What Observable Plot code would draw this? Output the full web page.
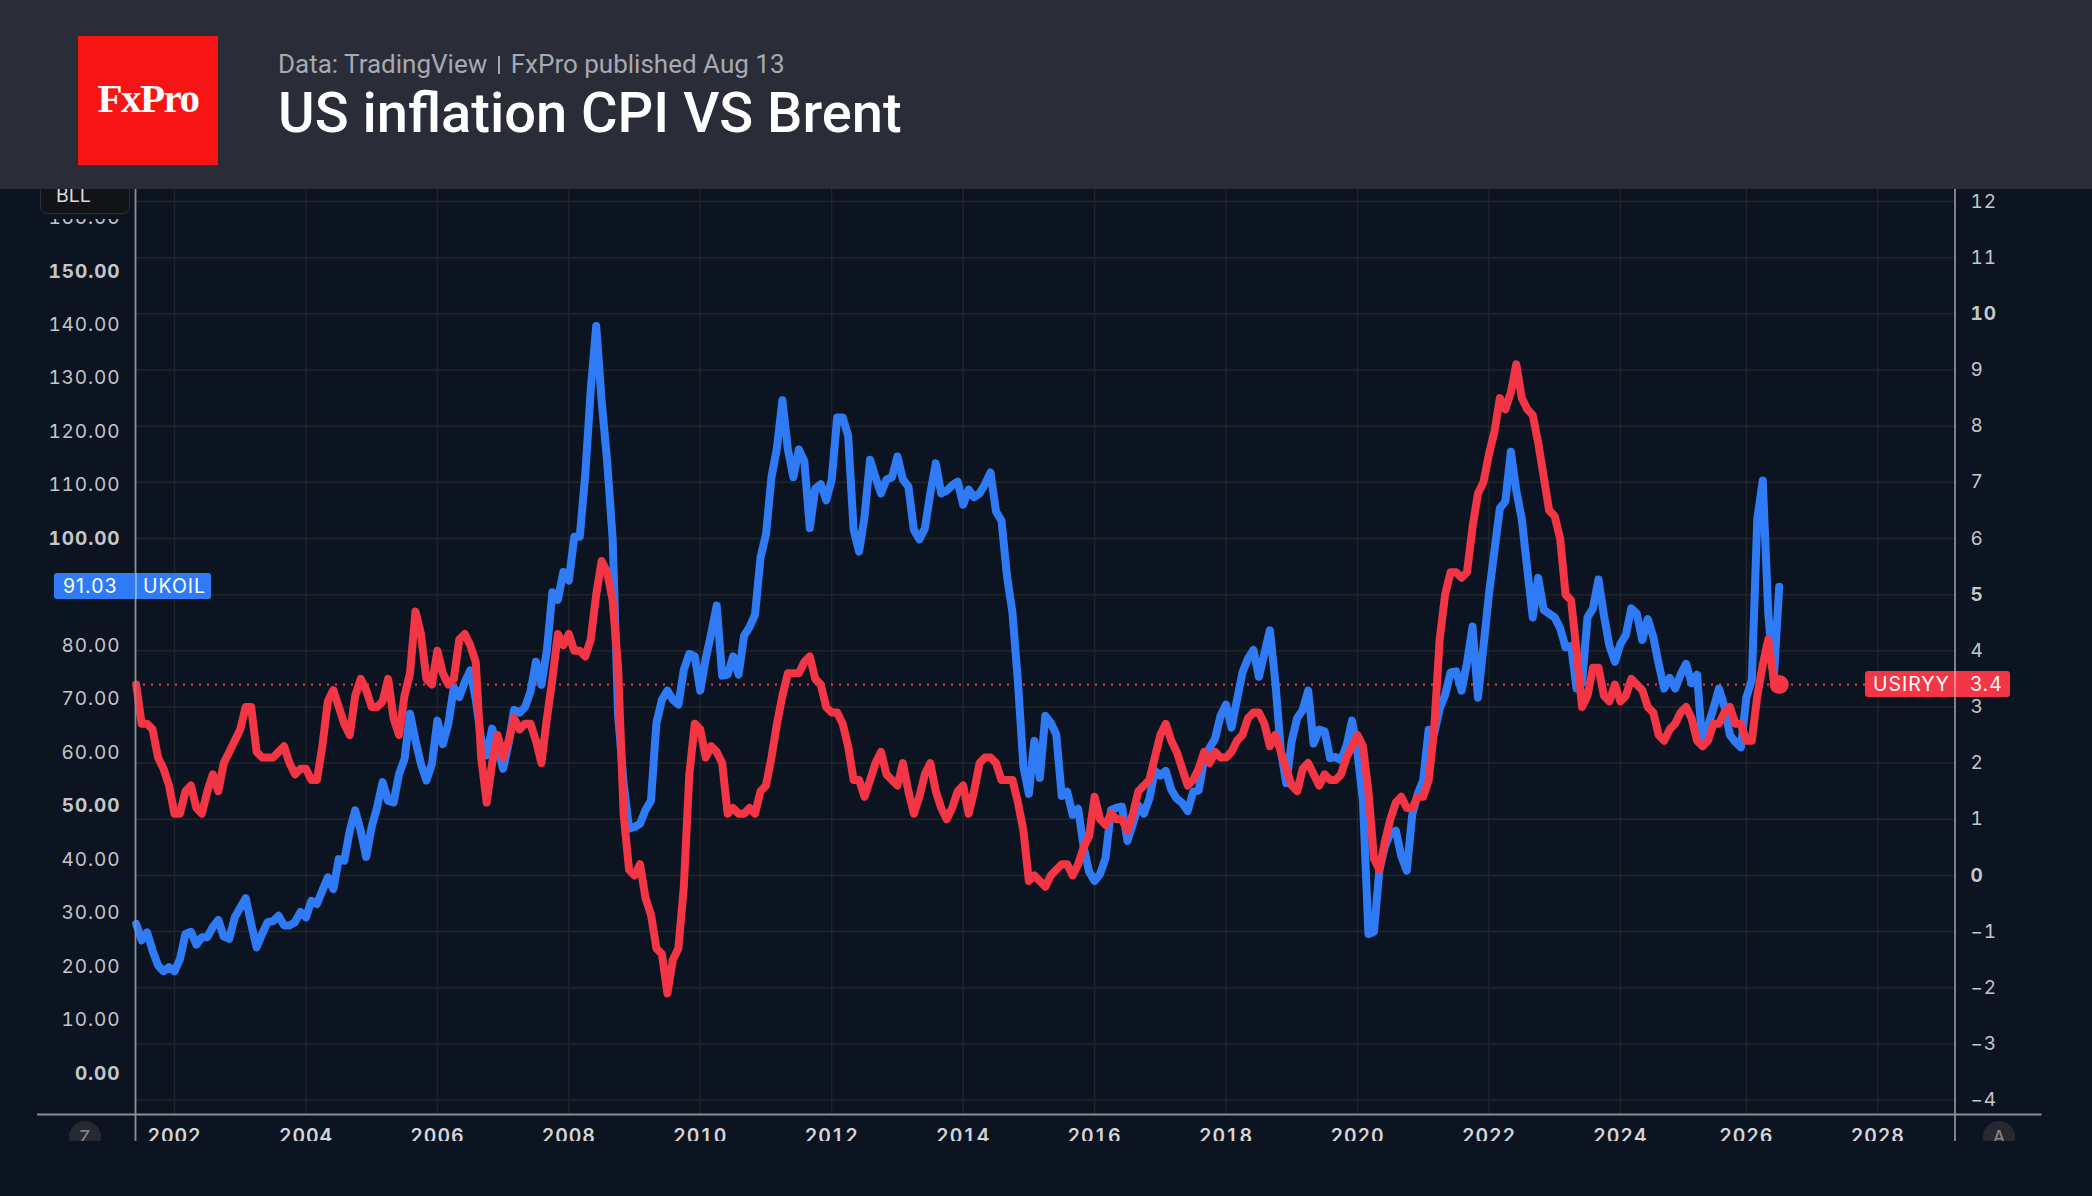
<!DOCTYPE html>
<html>
<head>
<meta charset="utf-8">
<title>US inflation CPI VS Brent</title>
<script src="https://cdn.jsdelivr.net/npm/d3@7"></script>
<script src="https://cdn.jsdelivr.net/npm/@observablehq/plot@0.6"></script>
<style>
  html, body { margin: 0; padding: 0; background: #0b1420; width: 2092px; height: 1196px; overflow: hidden; }
  #header { position: absolute; left: 0; top: 0; width: 2092px; height: 189px; background: #2a2d38; z-index: 5; }
  #logo { position: absolute; left: 78px; top: 36px; width: 142px; height: 129px; background: #f71414; color: #fff;
          font: 700 41px/125px "Liberation Serif", serif; text-align: center; letter-spacing: -1.5px; }
  #sub { position: absolute; left: 278px; top: 48px; font: 400 26px/32px Roboto, sans-serif; color: #a6a9b1; white-space: nowrap; }
  #sub i { display: inline-block; width: 1.5px; height: 18px; background: #a6a9b1; margin: 0 11px 0 11px; vertical-align: -1px; }
  #title { position: absolute; left: 278px; top: 79px; font: 500 56px/68px Roboto, sans-serif; color: #fff; white-space: nowrap; }
  #chart { position: absolute; left: 0; top: 189px; width: 2092px; height: 952px; overflow: hidden; }
  #chart svg { display: block; overflow: hidden; background: transparent; letter-spacing: .9px; }
  .chip { position: absolute; height: 26px; border-radius: 3px; color: #fff; font: 400 19.5px/26px Inter, sans-serif; letter-spacing: 1px; white-space: nowrap; }
  .chip span { position: absolute; top: 0; }
  .chip b { position: absolute; top: 0; width: 1.5px; height: 26px; background: rgba(255,255,255,.4); }
  #bll { position: absolute; left: 40px; top: -24px; width: 88px; height: 47px; background: #121316; border: 1px solid #2c2e33; border-radius: 7px;
         box-shadow: 0 5px 0 #0b1420; color: #d8d9db; font: 400 19.5px/1 Inter, sans-serif; }
  #bll span { position: absolute; left: 15px; top: 25px; transform: translateY(-5px); }
  .round { position: absolute; top: 932px; width: 32px; height: 32px; border-radius: 50%; background: #262a30; color: #80848b;
           font: 500 17px/32px Inter, sans-serif; text-align: center; }
</style>
</head>
<body>
<div id="header">
  <div id="logo" style="width:140px">FxPro</div>
  <div id="sub">Data: TradingView<i></i>FxPro published Aug 13</div>
  <div id="title">US inflation CPI VS Brent</div>
</div>
<div id="chart"></div>
<script>
// Monthly bars from Jun 2001 to Jul 2026 (Oct 2025 has no CPI print, so no bar)
const cpi2001 = [3.4,2.7,2.7,2.6,2.1,1.9,1.6];
const cpi2002 = [1.1,1.1,1.5,1.6,1.2,1.1,1.5,1.8,1.5,2.0,2.2,2.4];
const cpi2003 = [2.6,3.0,3.0,2.2,2.1,2.1,2.1,2.2,2.3,2.0,1.8,1.9];
const cpi2004 = [1.9,1.7,1.7,2.3,3.1,3.3,3.0,2.7,2.5,3.2,3.5,3.3];
const cpi2005 = [3.0,3.0,3.1,3.5,2.8,2.5,3.2,3.6,4.7,4.3,3.5,3.4];
const cpi2006 = [4.0,3.6,3.4,3.5,4.2,4.3,4.1,3.8,2.1,1.3,2.0,2.5];
const cpi2007 = [2.1,2.4,2.8,2.6,2.7,2.7,2.4,2.0,2.8,3.5,4.3,4.1];
const cpi2008 = [4.3,4.0,4.0,3.9,4.2,5.0,5.6,5.4,4.9,3.7,1.1,0.1];
const cpi2009 = [0.0,0.2,-0.4,-0.7,-1.3,-1.4,-2.1,-1.5,-1.3,-0.2,1.8,2.7];
const cpi2010 = [2.6,2.1,2.3,2.2,2.0,1.1,1.2,1.1,1.1,1.2,1.1,1.5];
const cpi2011 = [1.6,2.1,2.7,3.2,3.6,3.6,3.6,3.8,3.9,3.5,3.4,3.0];
const cpi2012 = [2.9,2.9,2.7,2.3,1.7,1.7,1.4,1.7,2.0,2.2,1.8,1.7];
const cpi2013 = [1.6,2.0,1.5,1.1,1.4,1.8,2.0,1.5,1.2,1.0,1.2,1.5];
const cpi2014 = [1.6,1.1,1.5,2.0,2.1,2.1,2.0,1.7,1.7,1.7,1.3,0.8];
const cpi2015 = [-0.1,0.0,-0.1,-0.2,0.0,0.1,0.2,0.2,0.0,0.2,0.5,0.7];
const cpi2016 = [1.4,1.0,0.9,1.1,1.0,1.0,0.8,1.1,1.5,1.6,1.7,2.1];
const cpi2017 = [2.5,2.7,2.4,2.2,1.9,1.6,1.7,1.9,2.2,2.0,2.2,2.1];
const cpi2018 = [2.1,2.2,2.4,2.5,2.8,2.9,2.9,2.7,2.3,2.5,2.2,1.9];
const cpi2019 = [1.6,1.5,1.9,2.0,1.8,1.6,1.8,1.7,1.7,1.8,2.1,2.3];
const cpi2020 = [2.5,2.3,1.5,0.3,0.1,0.6,1.0,1.3,1.4,1.2,1.2,1.4];
const cpi2021 = [1.4,1.7,2.6,4.2,5.0,5.4,5.4,5.3,5.4,6.2,6.8,7.0];
const cpi2022 = [7.5,7.9,8.5,8.3,8.6,9.1,8.5,8.3,8.2,7.7,7.1,6.5];
const cpi2023 = [6.4,6.0,5.0,4.9,4.0,3.0,3.2,3.7,3.7,3.2,3.1,3.4];
const cpi2024 = [3.1,3.2,3.5,3.4,3.3,3.0,2.9,2.5,2.4,2.6,2.7,2.9];
const cpi2025 = [3.0,2.8,2.4,2.3,2.4,2.7,2.7,2.9,3.0,2.7,2.7];
const cpi2026 = [2.4,2.4,3.2,3.75,4.2,3.5,3.4];

const brent2001 = [28.0,24.9,26.4,23.0,20.2,19.1,19.9];
const brent2002 = [19.1,21.4,26.1,26.5,24.1,25.5,25.5,27.4,28.7,25.6,25.2,29.2];
const brent2003 = [31.0,32.8,28.0,23.6,26.1,28.3,28.5,29.5,27.7,27.7,28.3,30.2];
const brent2004 = [29.2,32.3,31.7,34.2,36.7,34.5,40.1,39.8,45.4,49.2,45.4,40.5];
const brent2005 = [46.1,49.8,54.5,51.0,50.7,56.0,58.8,67.3,62.3,57.9,54.8,57.9];
const brent2006 = [66.0,61.6,65.4,72.2,70.4,73.2,75.4,70.0,62.5,59.5,64.5,61.0];
const brent2007 = [57.0,61.7,68.0,67.5,68.5,71.4,77.0,72.7,79.2,90.0,88.6,93.8];
const brent2008 = [92.2,100.4,100.4,112.0,127.8,139.8,125.7,114.5,100.0,67.0,54.4,45.8];
const brent2009 = [46.1,46.7,49.3,51.0,65.6,69.9,71.6,69.9,69.0,75.5,78.5,78.0];
const brent2010 = [71.6,77.6,82.3,87.5,74.4,74.6,78.0,74.6,81.9,83.5,85.8,96.5];
const brent2011 = [100.8,111.5,117.0,125.9,116.7,111.5,116.7,114.5,102.0,109.4,110.2,107.2];
const brent2012 = [111.1,122.7,122.7,119.3,101.7,97.6,104.2,114.8,111.5,108.5,111.1,111.5];
const brent2013 = [115.4,111.1,109.8,101.7,99.9,101.9,108.5,114.1,108.5,109.0,110.0,110.7];
const brent2014 = [106.4,109.2,107.8,108.5,110.2,112.4,105.1,103.4,93.1,86.2,73.3,57.4];
const brent2015 = [52.3,62.2,55.3,66.9,65.6,63.4,51.9,52.7,48.4,49.5,42.4,37.7];
const brent2016 = [36.0,37.3,40.3,49.3,49.7,49.9,43.5,46.7,50.1,48.6,51.4,56.6];
const brent2017 = [55.7,56.6,53.1,51.4,50.6,49.1,52.7,52.9,58.7,60.9,62.6,66.9];
const brent2018 = [69.0,64.7,69.9,75.0,77.6,79.2,74.2,78.5,82.9,73.3,60.4,54.3];
const brent2019 = [62.2,66.5,68.0,71.6,61.7,64.3,64.0,59.0,59.2,58.6,61.3,66.0];
const brent2020 = [60.0,51.0,26.1,26.5,38.1,42.4,45.0,45.4,40.7,37.9,48.4,52.3];
const brent2021 = [54.9,64.3,63.5,68.2,70.8,75.0,75.2,71.6,76.8,83.6,70.3,79.8];
const brent2022 = [89.6,97.7,105.7,107.0,116.3,109.0,103.7,94.4,85.3,92.7,86.7,86.0];
const brent2023 = [85.3,83.3,79.7,80.0,72.0,73.0,85.3,87.0,92.4,85.7,80.0,77.0];
const brent2024 = [80.3,82.0,87.0,86.0,81.1,85.0,81.7,76.6,72.0,74.0,72.0,74.6];
const brent2025 = [76.6,73.0,74.6,61.3,65.0,68.3,72.0,68.6,63.3,62.0,61.0];
const brent2026 = [70.3,73.6,103.7,110.9,86.3,73.6,91.03];

const yearLabels = [2002,2004,2006,2008,2010,2012,2014,2016,2018,2020,2022,2024,2026,2028];
const yearBars = [7,31,55,79,103,127,151,175,199,223,247,271,294,318];
const priceTicks = [0,10,20,30,40,50,60,70,80,100,110,120,130,140,150,160];
const priceBold = [0,50,100,150];
const pctTicks = [-4,-3,-2,-1,0,1,2,3,4,5,6,7,8,9,10,11,12];
const pctBold = [0,5,10];
const lastPrice = 91.03, lastCpi = 3.4;

// The price axis is tied to the percent axis by a fixed linear relation
const pctAtZeroPrice = -3.527, pctPerDollar = 0.09521;
const toPct = p => pctAtZeroPrice + pctPerDollar * p;
const toPrice = v => (v - pctAtZeroPrice) / pctPerDollar;

const cpi = [cpi2001,cpi2002,cpi2003,cpi2004,cpi2005,cpi2006,cpi2007,cpi2008,cpi2009,cpi2010,cpi2011,cpi2012,cpi2013,
             cpi2014,cpi2015,cpi2016,cpi2017,cpi2018,cpi2019,cpi2020,cpi2021,cpi2022,cpi2023,cpi2024,cpi2025,cpi2026].flat();
const brent = [brent2001,brent2002,brent2003,brent2004,brent2005,brent2006,brent2007,brent2008,brent2009,brent2010,brent2011,brent2012,brent2013,
               brent2014,brent2015,brent2016,brent2017,brent2018,brent2019,brent2020,brent2021,brent2022,brent2023,brent2024,brent2025,brent2026].flat();

const cpiRows = cpi.map((v, bar) => ({bar, v}));
const brentRows = brent.map((p, bar) => ({bar, v: toPct(p)}));
const lastBar = cpi.length - 1;

const domainX = [-0.12, 332.1];
const domainY = [-4.257, 12.214];
const gridColor = "#212428", axisColor = "#8b8e93", labelColor = "#c4c6c9";
const lineFont = {fontSize: 19, fontFamily: "Inter, sans-serif", fill: labelColor};

const plot = Plot.plot({
  width: 2092, height: 952,
  marginLeft: 135, marginRight: 137.5, marginTop: 0, marginBottom: 27,
  x: {domain: domainX, axis: null},
  y: {domain: domainY, axis: null},
  style: {background: "transparent", overflow: "hidden"},
  marks: [
    Plot.ruleX(yearBars, {stroke: gridColor, strokeWidth: 1.5}),
    Plot.ruleY(pctTicks, {stroke: gridColor, strokeWidth: 1.5}),
    Plot.ruleY([lastCpi], {x1: domainX[0], x2: 316, stroke: "#f23645", strokeWidth: 2, strokeDasharray: "2,6"}),
    Plot.line(brentRows, {x: "bar", y: "v", stroke: "#2f7bf6", strokeWidth: 8, strokeLinejoin: "round", strokeLinecap: "round", curve: "linear"}),
    Plot.line(cpiRows, {x: "bar", y: "v", stroke: "#f23645", strokeWidth: 8, strokeLinejoin: "round", strokeLinecap: "round", curve: "linear"}),
    Plot.dot([{bar: lastBar, v: lastCpi}], {x: "bar", y: "v", r: 9.5, fill: "#f23645"}),
    // frame lines run past the plot area, as in the trading chart
    Plot.ruleY([domainY[0]], {x1: -18, x2: 348, stroke: axisColor, strokeWidth: 1.8}),
    Plot.ruleX([domainX[0], domainX[1]], {y1: -4.74, y2: domainY[1], stroke: axisColor, strokeWidth: 1.8}),
    Plot.axisY(priceTicks.filter(p => !priceBold.includes(p)).map(toPct), {anchor: "left", tickSize: 0, tickPadding: 15, tickFormat: v => toPrice(v).toFixed(2), label: null, ...lineFont, fontWeight: 400}),
    Plot.axisY(priceBold.map(toPct), {anchor: "left", tickSize: 0, tickPadding: 15, tickFormat: v => toPrice(v).toFixed(2), label: null, ...lineFont, fontWeight: 700}),
    Plot.axisY(pctTicks.filter(p => !pctBold.includes(p)), {anchor: "right", tickSize: 0, tickPadding: 15.5, tickFormat: v => String(v).replace("-", "−"), label: null, ...lineFont, fontWeight: 400}),
    Plot.axisY(pctBold, {anchor: "right", tickSize: 0, tickPadding: 15.5, tickFormat: v => String(v), label: null, ...lineFont, fontWeight: 700}),
    Plot.axisX(yearBars, {anchor: "bottom", tickSize: 0, tickPadding: 15, tickFormat: b => String(yearLabels[yearBars.indexOf(b)]), label: null, ...lineFont, fontSize: 19.5, fontWeight: 600, fill: "#d3d5d8"})
  ]
});
const holder = document.getElementById("chart");
holder.appendChild(plot);

// Overlays: price-scale buttons and last-value chips, placed through the y scale
const yPx = plot.scale("y");
function addChip(left, width, bg, value, parts, axisAt) {
  const d = document.createElement("div");
  d.className = "chip";
  d.style.cssText = `left:${left}px;width:${width}px;background:${bg};top:${yPx.apply(value) - 13}px`;
  for (const [text, x] of parts) {
    const s = document.createElement("span");
    s.textContent = text; s.style.left = x + "px";
    d.appendChild(s);
  }
  const line = document.createElement("b"); line.style.left = axisAt + "px"; d.appendChild(line);
  holder.appendChild(d);
}
addChip(54, 157, "#2f7bf6", toPct(lastPrice), [[lastPrice.toFixed(2), 9], ["UKOIL", 89]], 81);
addChip(1865, 145, "#f23645", lastCpi, [["USIRYY", 8], [lastCpi.toFixed(1), 105]], 89);
const bll = document.createElement("div"); bll.id = "bll"; bll.innerHTML = "<span>BLL</span>"; holder.appendChild(bll);
for (const [t, left] of [["Z", 69], ["A", 1983]]) {
  const r = document.createElement("div"); r.className = "round"; r.textContent = t; r.style.left = left + "px"; holder.appendChild(r);
}
</script>
</body>
</html>
